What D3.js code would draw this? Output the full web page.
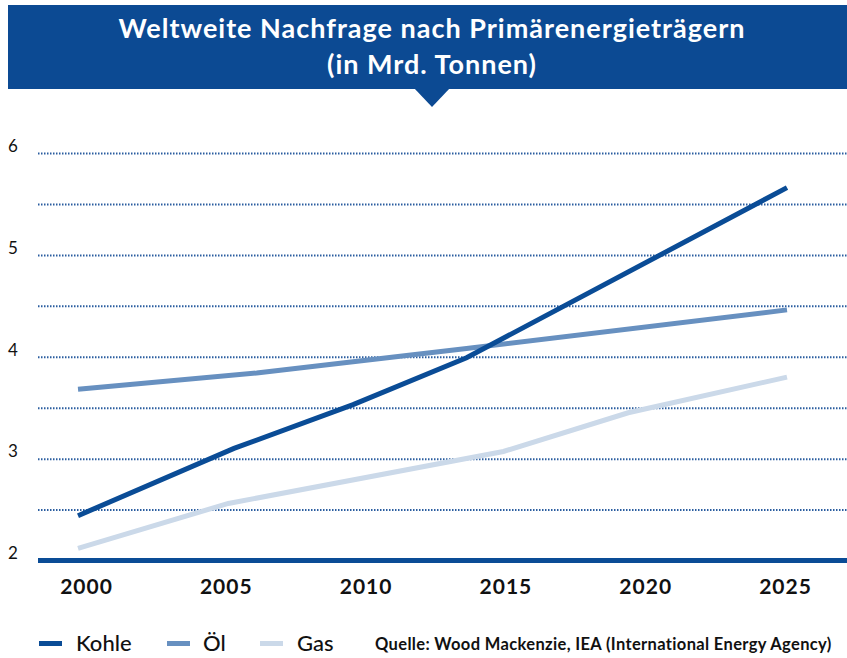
<!DOCTYPE html>
<html>
<head>
<meta charset="utf-8">
<script src="https://cdn.jsdelivr.net/npm/d3@7"></script>
<style>
  body { margin: 0; background: #fff; }
  svg { display: block; font-family: Lato, 'Open Sans', sans-serif; }
</style>
</head>
<body>
<div id="chart"></div>
<script>
// data (years where the lines bend)
const kohleYears = [2000, 2005.5, 2009.7, 2013.7, 2025]
const kohleValues = [2.44, 3.1, 3.53, 3.99, 5.66]
const oelYears = [2000, 2006.3, 2013.7, 2025]
const oelValues = [3.68, 3.84, 4.08, 4.46]
const gasYears = [2000, 2005.3, 2015, 2019.4, 2025]
const gasValues = [2.12, 2.56, 3.07, 3.45, 3.8]
const xTickLabels = ['2000', '2005', '2010', '2015', '2020', '2025']
const yTicks = [2, 3, 4, 5, 6]
const gridTicks = [2.5, 3, 3.5, 4, 4.5, 5, 5.5, 6]
const seriesNames = ['Kohle', 'Öl', 'Gas']
const colors = ['#0a4c96', '#6790c0', '#cbd9e9']

const W = 847, H = 658
const svg = d3.select('#chart').append('svg').attr('width', W).attr('height', H)

// banner
const bannerColor = '#0c4a93'
svg.append('rect').attr('x', 8).attr('y', 5).attr('width', W - 8).attr('height', 84).attr('fill', bannerColor)
svg.append('path').attr('d', 'M414,88 L450,88 L432,107 Z').attr('fill', bannerColor)
const title = svg.append('text').attr('x', 432).attr('fill', '#fff')
  .attr('font-weight', 700).attr('font-size', 27).attr('letter-spacing', 1).attr('text-anchor', 'middle')
title.append('tspan').attr('x', 432).attr('y', 38).text('Weltweite Nachfrage nach Primärenergieträgern')
title.append('tspan').attr('x', 432).attr('y', 74).text('(in Mrd. Tonnen)')

const x = d3.scaleLinear().domain([2000, 2025]).range([78, 787])
const xLabel = d3.scalePoint().domain(xTickLabels).range([86, 785])
const y = d3.scaleLinear().domain([2, 6]).range([560.5, 153])

// dotted grid
svg.append('g')
  .attr('transform', 'translate(38,0)')
  .call(d3.axisLeft(y).tickValues(gridTicks).tickSize(-(W - 38)).tickFormat(''))
  .call(g => g.select('.domain').remove())
  .call(g => g.selectAll('line').attr('stroke', '#2a5d9f').attr('stroke-width', 2).attr('stroke-dasharray', '1.5,1.5'))

// y labels
svg.append('g')
  .attr('transform', 'translate(8,0)')
  .call(d3.axisRight(y).tickValues(yTicks).tickSize(0).tickPadding(0).tickFormat(d3.format('d')))
  .call(g => g.select('.domain').remove())
  .call(g => g.selectAll('text').attr('font-family', 'Lato, sans-serif').attr('font-size', 17)
    .attr('fill', '#111').attr('dy', '-0.1em'))

// baseline
svg.append('line').attr('x1', 38).attr('x2', W).attr('y1', y(2)).attr('y2', y(2))
  .attr('stroke', '#0a4c96').attr('stroke-width', 5)

// x labels
svg.append('g')
  .attr('transform', 'translate(0,579)')
  .call(d3.axisBottom(xLabel).tickSize(0).tickPadding(0))
  .call(g => g.select('.domain').remove())
  .call(g => g.selectAll('text').attr('font-family', 'Lato, sans-serif').attr('font-size', 21)
    .attr('letter-spacing', 1).attr('font-weight', 700).attr('fill', '#111'))

// lines
const line = d3.line().x(d => x(d[0])).y(d => y(d[1]))
const series = [
  d3.zip(kohleYears, kohleValues),
  d3.zip(oelYears, oelValues),
  d3.zip(gasYears, gasValues)
]
// gas first, then oil, coal on top
;[2, 1, 0].forEach(i => {
  svg.append('path').datum(series[i]).attr('d', line)
    .attr('fill', 'none').attr('stroke', colors[i]).attr('stroke-width', 5)
})

// legend
const swatchX = [39, 167, 260]
const labelX = [76, 203, 297]
seriesNames.forEach((name, i) => {
  svg.append('line').attr('x1', swatchX[i]).attr('x2', swatchX[i] + 23)
    .attr('y1', 643.5).attr('y2', 643.5).attr('stroke', colors[i]).attr('stroke-width', 5)
  svg.append('text').attr('x', labelX[i]).attr('y', 651)
    .attr('font-size', 22).attr('font-weight', 500).attr('fill', '#111').text(name)
})
svg.append('text').attr('x', 375).attr('y', 650).attr('font-size', 16.5).attr('font-weight', 700)
  .attr('letter-spacing', 0.35).attr('fill', '#111').text('Quelle: Wood Mackenzie, IEA (International Energy Agency)')
</script>
</body>
</html>
